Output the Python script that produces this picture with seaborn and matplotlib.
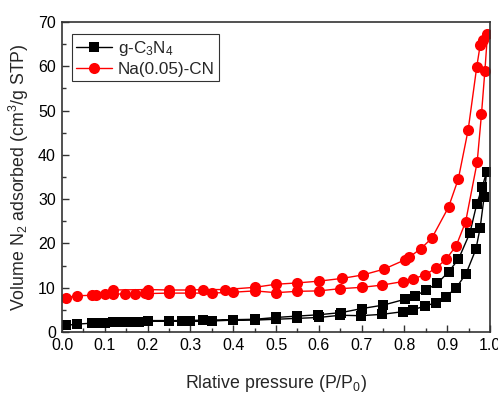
import numpy as np
import pandas as pd
import matplotlib
matplotlib.use('Agg')
import matplotlib.pyplot as plt
import seaborn as sns
from matplotlib.ticker import MultipleLocator

# g-C3N4: adsorption branch then desorption branch
cn_ads_x = [0.01, 0.034, 0.069, 0.08, 0.10, 0.12, 0.14, 0.16, 0.18, 0.20, 0.25, 0.30, 0.35,
            0.40, 0.45, 0.50, 0.55, 0.60, 0.65, 0.698, 0.747, 0.796, 0.819, 0.848, 0.873,
            0.897, 0.921, 0.944, 0.967, 0.977, 0.986]
cn_ads_y = [1.5, 1.8, 2.0, 2.1, 2.1, 2.2, 2.2, 2.3, 2.3, 2.4, 2.5, 2.4, 2.5,
            2.7, 2.7, 2.9, 3.1, 3.3, 3.8, 3.7, 4.0, 4.6, 5.0, 5.9, 6.6,
            8.0, 10.0, 13.2, 18.7, 23.6, 30.4]
cn_des_x = [0.992, 0.982, 0.969, 0.953, 0.926, 0.903, 0.877, 0.85, 0.825, 0.801, 0.751,
            0.70, 0.652, 0.598, 0.548, 0.50, 0.451, 0.40, 0.33, 0.28, 0.25, 0.20]
cn_des_y = [36.2, 32.8, 28.9, 22.4, 16.4, 13.6, 11.0, 9.5, 8.1, 7.4, 6.1,
            5.3, 4.4, 3.9, 3.6, 3.3, 2.9, 2.8, 2.7, 2.6, 2.6, 2.6]

# Na(0.05)-CN
na_ads_x = [0.01, 0.034, 0.069, 0.08, 0.10, 0.12, 0.147, 0.17, 0.194, 0.20, 0.25, 0.30, 0.35,
            0.40, 0.45, 0.50, 0.55, 0.60, 0.65, 0.70, 0.747, 0.796, 0.819, 0.848, 0.873,
            0.897, 0.921, 0.943, 0.97, 0.98, 0.988]
na_ads_y = [7.8, 8.2, 8.3, 8.4, 8.5, 8.6, 8.6, 8.7, 8.8, 8.7, 8.8, 8.8, 8.8,
            9.0, 9.3, 8.9, 9.2, 9.3, 9.8, 10.1, 10.6, 11.4, 12.0, 12.9, 14.4,
            16.4, 19.5, 24.9, 38.4, 49.2, 59.0]
na_des_x = [0.994, 0.984, 0.977, 0.969, 0.949, 0.926, 0.903, 0.864, 0.838, 0.811, 0.801,
            0.752, 0.703, 0.653, 0.60, 0.55, 0.50, 0.45, 0.38, 0.33, 0.30, 0.25, 0.20, 0.12]
na_des_y = [67.2, 65.9, 64.8, 59.9, 45.7, 34.6, 28.2, 21.2, 18.8, 16.9, 16.3,
            14.2, 12.9, 12.1, 11.5, 11.1, 10.8, 10.1, 9.6, 9.6, 9.5, 9.5, 9.6, 9.5]

sns.set_style('ticks')
plt.rcParams['font.family'] = ['Liberation Sans', 'DejaVu Sans']
plt.rcParams['mathtext.default'] = 'regular'

fig, ax = plt.subplots(figsize=(4.98, 3.93), dpi=100)
fig.subplots_adjust(left=0.1245, right=0.984, bottom=0.155, top=0.944)

cn = pd.DataFrame({'x': cn_ads_x + cn_des_x, 'y': cn_ads_y + cn_des_y})
na = pd.DataFrame({'x': na_ads_x + na_des_x, 'y': na_ads_y + na_des_y})

sns.lineplot(data=cn, x='x', y='y', sort=False, estimator=None, ax=ax, color='black',
             marker='s', markersize=7, markeredgewidth=0, linewidth=1,
             label='g-C$_3$N$_4$')
sns.lineplot(data=na, x='x', y='y', sort=False, estimator=None, ax=ax, color='#ff0000',
             marker='o', markersize=8, markeredgewidth=0, linewidth=1,
             label='Na(0.05)-CN')

ax.set_xlim(0, 1.0)
ax.set_ylim(0, 70)
ax.xaxis.set_major_locator(MultipleLocator(0.1))
ax.xaxis.set_minor_locator(MultipleLocator(0.05))
ax.yaxis.set_major_locator(MultipleLocator(10))
ax.yaxis.set_minor_locator(MultipleLocator(5))
ax.tick_params(which='major', direction='in', length=5, width=1, labelsize=11.5, pad=4.5,
               colors='#333333', labelcolor='black')
ax.tick_params(which='minor', direction='in', length=3, width=1, colors='#333333')
for s in ax.spines.values():
    s.set_linewidth(1.2)
    s.set_color('#333333')

ax.set_xlabel('Rlative pressure (P/P$_0$)', fontsize=12.8, labelpad=14)
ax.set_ylabel('Volume N$_2$ adsorbed (cm$^3$/g STP)', fontsize=12.8, labelpad=5)

leg = ax.legend(loc='upper left', bbox_to_anchor=(0.023, 0.96), fontsize=12.3, frameon=True,
                fancybox=False, edgecolor='black', handlelength=2.1, borderpad=0.25,
                labelspacing=0.25, handletextpad=0.35, borderaxespad=0)
leg.get_frame().set_linewidth(0.8)

plt.savefig('out.png', dpi=100)
